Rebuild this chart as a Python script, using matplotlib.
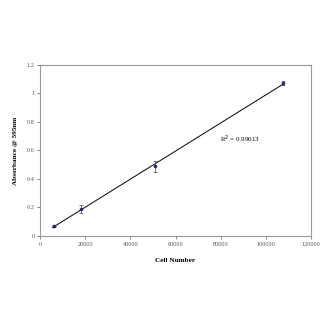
import numpy as np
import matplotlib.pyplot as plt

# ----- Data -----
cell_number = [6000, 18000, 51000, 107500]
absorbance = [0.07, 0.186, 0.488, 1.072]
err_low = [0.006, 0.028, 0.04, 0.01]
err_high = [0.006, 0.03, 0.04, 0.018]
r2_text = 'R$^2$ = 0.99013'

# linear trendline through the points
slope, intercept = np.polyfit(cell_number, absorbance, 1)
x_fit = np.array([min(cell_number) - 500, max(cell_number)])
y_fit = slope * x_fit + intercept

plt.rcParams['font.family'] = ['Liberation Serif', 'DejaVu Serif']

fig = plt.figure(figsize=(3.25, 3.25), dpi=100)
ax = fig.add_axes([0.123, 0.274, 0.834, 0.526])

ax.plot(x_fit, y_fit, color='black', lw=0.7)
ax.errorbar(cell_number, absorbance, yerr=[err_low, err_high], fmt='D',
            color='#22227a', ms=1.4, ecolor='#444444', elinewidth=0.5,
            capsize=1.2, capthick=0.5)

ax.set_xlim(0, 120000)
ax.set_ylim(0, 1.2)
ax.set_xticks(np.arange(0, 120001, 20000))
ax.set_yticks([0, 0.2, 0.4, 0.6, 0.8, 1, 1.2])
ax.set_yticklabels(['0', '0.2', '0.4', '0.6', '0.8', '1', '1.2'])

for s in ax.spines.values():
    s.set_color('#999999')
    s.set_linewidth(0.8)
ax.tick_params(labelsize=4.5, colors='#555555', length=2, width=0.5, pad=2)

ax.set_xlabel('Cell Number', fontsize=5.2, fontweight='bold', labelpad=8)
ax.set_ylabel('Absorbance @ 595nm', fontsize=5.2, fontweight='bold', labelpad=6)
ax.text(0.665, 0.545, r2_text, transform=ax.transAxes, fontsize=5)

fig.savefig('out.png', dpi=100)
